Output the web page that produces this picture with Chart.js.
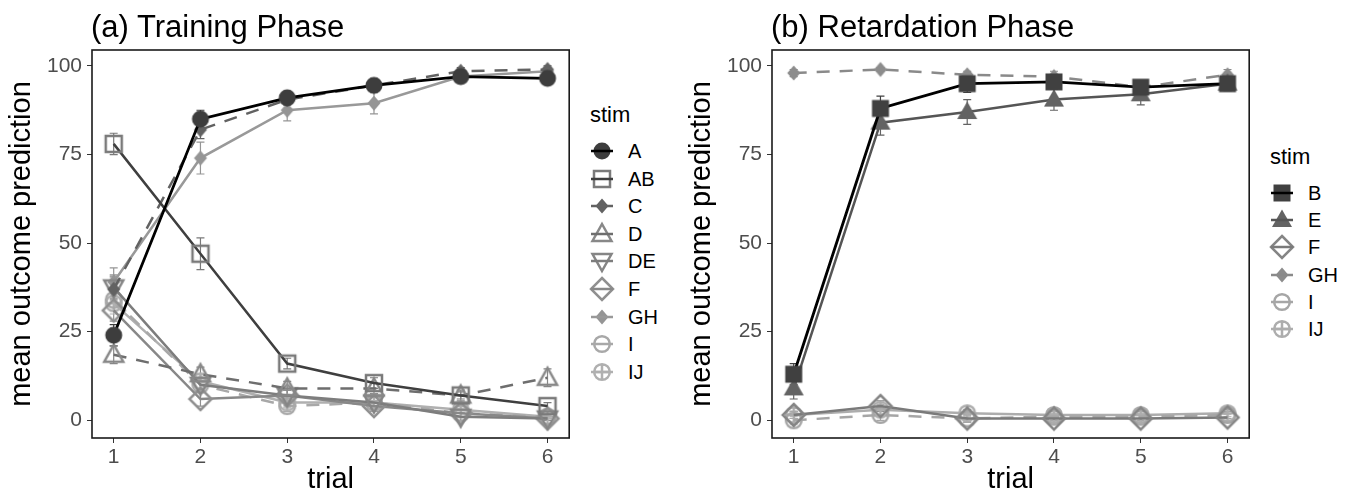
<!DOCTYPE html>
<html>
<head>
<meta charset="utf-8">
<script src="https://cdn.jsdelivr.net/npm/chart.js@4.4.1/dist/chart.umd.min.js"></script>
<style>
  body { margin: 0; background: #fff; font-family: "Liberation Sans", Arial, sans-serif; }
  #wrap { position: relative; width: 1360px; height: 499px; overflow: hidden; }
  canvas.plot { position: absolute; top: 0; }
  .ptitle { position: absolute; top: 9px; font-size: 31px; line-height: 36px; color: #000; white-space: nowrap; }
  .lg-head { position: absolute; font-size: 22px; line-height: 26px; color: #000; }
  .lg-row { position: absolute; height: 26px; line-height: 26px; font-size: 20px; color: #000; white-space: nowrap; }
  .lg-row canvas { position: absolute; left: 0; top: 0; }
  .lg-row span { position: absolute; left: 40px; top: 0; }
</style>
</head>
<body>
<div id="wrap">
  <canvas id="chartA" class="plot" width="580" height="499" style="left:0"></canvas>
  <canvas id="chartB" class="plot" width="580" height="499" style="left:680px"></canvas>
  <div class="ptitle" style="left:91px">(a) Training Phase</div>
  <div class="ptitle" style="left:771px">(b) Retardation Phase</div>
  <div id="legA"></div>
  <div id="legB"></div>
</div>
<script>
// ---- data ----
const trials = [1, 2, 3, 4, 5, 6];
const yTicks = [0, 25, 50, 75, 100];

// (a) training phase, mean outcome prediction per trial
const trainA  = [24, 85, 91, 94.5, 97, 96.5];
const trainAB = [78, 47, 16, 10.5, 7, 4];
const trainC  = [37, 82, 90.5, 94.5, 98.5, 99];
const trainD  = [18.5, 13, 9, 9, 7, 12];
const trainDE = [37.5, 10, 7, 5, 1, 0.5];
const trainF  = [31, 6, 7, 4, 2, 0.5];
const trainGH = [39, 74, 87.5, 89.5, 97, 98.5];
const trainI  = [34, 10, 4, 5, 2, 1];
const trainIJ = [33, 11, 5, 5, 3, 1];

// error bar half widths (a)
const errA  = [3, 2.5, 1.5, 1, 1, 1.5];
const errAB = [3, 4.5, 1.5, 1.5, 1, 1];
const errC  = [4, 2.5, 1.5, 1, 1, 1];
const errD  = [2.5, 2, 2, 1.5, 1.5, 2.5];
const errLow = [3, 2, 1.5, 1.5, 1, 0.5];
const errGH = [4, 4.5, 3, 3, 1.5, 1];

// (b) retardation phase
const retB  = [13, 88, 95, 95.5, 94, 95];
const retE  = [9, 84, 87, 90.5, 92, 95];
const retF  = [1.5, 4, 0.5, 0.5, 0.5, 0.8];
const retGH = [98, 99, 97.5, 97, 94, 97.5];
const retI  = [0, 1.5, 0.5, 1, 1, 1.5];
const retIJ = [1.5, 3, 2, 1.5, 1.5, 2];

const errB   = [3, 3.5, 2.5, 2, 1.5, 1.5];
const errE   = [3, 3.5, 3.5, 3, 3, 2];
const errGHb = [1, 0.5, 1, 1.5, 1.5, 1.5];
const errLowB = [1, 1.5, 1, 1, 1, 1];

// ---- symbols ----
function drawShape(ctx, shape, x, y, col) {
  ctx.fillStyle = col;
  ctx.strokeStyle = col;
  ctx.lineWidth = 2.5;
  ctx.beginPath();
  switch (shape) {
    case 'circle':
      ctx.arc(x, y, 8.5, 0, Math.PI * 2); ctx.fill(); break;
    case 'circleOpen':
      ctx.arc(x, y, 7.8, 0, Math.PI * 2); ctx.stroke(); break;
    case 'circlePlus':
      ctx.arc(x, y, 7.8, 0, Math.PI * 2);
      ctx.moveTo(x - 7.8, y); ctx.lineTo(x + 7.8, y);
      ctx.moveTo(x, y - 7.8); ctx.lineTo(x, y + 7.8);
      ctx.stroke(); break;
    case 'square':
      ctx.rect(x - 8, y - 8, 16, 16); ctx.stroke(); break;
    case 'squareFilled':
      ctx.rect(x - 8.5, y - 8.5, 17, 17); ctx.fill(); break;
    case 'diamond':
      ctx.moveTo(x, y - 7.5); ctx.lineTo(x + 6.5, y); ctx.lineTo(x, y + 7.5); ctx.lineTo(x - 6.5, y);
      ctx.closePath(); ctx.fill(); break;
    case 'diamondOpen':
      ctx.moveTo(x, y - 11); ctx.lineTo(x + 11, y); ctx.lineTo(x, y + 11); ctx.lineTo(x - 11, y);
      ctx.closePath(); ctx.stroke(); break;
    case 'triangle':
      ctx.moveTo(x, y - 10); ctx.lineTo(x + 9.5, y + 7); ctx.lineTo(x - 9.5, y + 7);
      ctx.closePath(); ctx.stroke(); break;
    case 'triangleFilled':
      ctx.moveTo(x, y - 10.5); ctx.lineTo(x + 10, y + 7); ctx.lineTo(x - 10, y + 7);
      ctx.closePath(); ctx.fill(); break;
    case 'triangleDown':
      ctx.moveTo(x, y + 10); ctx.lineTo(x + 9.5, y - 7); ctx.lineTo(x - 9.5, y - 7);
      ctx.closePath(); ctx.stroke(); break;
  }
}

function symbolCanvas(shape, col) {
  const c = document.createElement('canvas');
  c.width = 28; c.height = 28;
  drawShape(c.getContext('2d'), shape, 14, 14, col);
  return c;
}

// ---- series definitions ----
function series(label, vals, err, line, pt, shape, dashed, lw) {
  return {
    label: label,
    data: trials.map((t, i) => ({ x: t, y: vals[i] })),
    err: err,
    borderColor: line,
    backgroundColor: pt,
    borderWidth: lw || 2.5,
    borderDash: dashed ? [13, 10] : [],
    pointStyle: symbolCanvas(shape, pt),
    pointRadius: 8,
    tension: 0,
    fill: false,
    shape: shape
  };
}

const setA = [
  series('A',  trainA,  errA,   '#000000', '#3d3d3d', 'circle', false, 2.8),
  series('AB', trainAB, errAB,  '#3f3f3f', '#7a7a7a', 'square', false),
  series('C',  trainC,  errC,   '#626262', '#626262', 'diamond', true),
  series('D',  trainD,  errD,   '#6e6e6e', '#888888', 'triangle', true),
  series('DE', trainDE, errLow, '#7d7d7d', '#858585', 'triangleDown', false),
  series('F',  trainF,  errLow, '#888888', '#909090', 'diamondOpen', false),
  series('GH', trainGH, errGH,  '#999999', '#959595', 'diamond', false),
  series('I',  trainI,  errLow, '#a8a8a8', '#a8a8a8', 'circleOpen', true),
  series('IJ', trainIJ, errLow, '#b0b0b0', '#b0b0b0', 'circlePlus', false)
];

const setB = [
  series('B',  retB,  errB,    '#000000', '#404040', 'squareFilled', false, 2.8),
  series('E',  retE,  errE,    '#555555', '#636363', 'triangleFilled', false),
  series('F',  retF,  errLowB, '#7a7a7a', '#858585', 'diamondOpen', false),
  series('GH', retGH, errGHb,  '#8a8a8a', '#8c8c8c', 'diamond', true),
  series('I',  retI,  errLowB, '#a6a6a6', '#a6a6a6', 'circleOpen', true),
  series('IJ', retIJ, errLowB, '#adadad', '#adadad', 'circlePlus', false)
];

// ---- plugins ----
const errorBars = {
  id: 'errorBars',
  beforeDatasetsDraw(chart) {
    const ctx = chart.ctx;
    const xs = chart.scales.x, ys = chart.scales.y;
    chart.data.datasets.forEach(ds => {
      if (!ds.err) return;
      ctx.save();
      ctx.strokeStyle = ds.backgroundColor;
      ctx.lineWidth = 1.2;
      ds.data.forEach((p, i) => {
        const px = xs.getPixelForValue(p.x);
        const top = ys.getPixelForValue(p.y + ds.err[i]);
        const bot = ys.getPixelForValue(p.y - ds.err[i]);
        ctx.beginPath();
        ctx.moveTo(px, top); ctx.lineTo(px, bot);
        ctx.moveTo(px - 4, top); ctx.lineTo(px + 4, top);
        ctx.moveTo(px - 4, bot); ctx.lineTo(px + 4, bot);
        ctx.stroke();
      });
      ctx.restore();
    });
  }
};

const panelBox = {
  id: 'panelBox',
  afterDraw(chart) {
    const a = chart.chartArea, ctx = chart.ctx;
    ctx.save();
    ctx.strokeStyle = '#1a1a1a';
    ctx.lineWidth = 1.6;
    ctx.strokeRect(a.left, a.top, a.right - a.left, a.bottom - a.top);
    ctx.restore();
  }
};

function makeChart(id, datasets) {
  return new Chart(document.getElementById(id), {
    type: 'line',
    data: { datasets: datasets },
    options: {
      responsive: false,
      animation: false,
      devicePixelRatio: 1,
      layout: { padding: { left: 0, top: 50, right: 10, bottom: 0 } },
      plugins: { legend: { display: false }, tooltip: { enabled: false } },
      scales: {
        x: {
          type: 'linear',
          min: 0.75, max: 6.25,
          afterBuildTicks: s => { s.ticks = trials.map(v => ({ value: v })); },
          afterFit: s => { s.height = 61; },
          grid: { drawOnChartArea: false, drawTicks: true, tickLength: 5, color: '#333', lineWidth: 1 },
          border: { display: false },
          ticks: { color: '#4d4d4d', font: { size: 21, family: '"Liberation Sans", Arial' }, padding: 2, maxRotation: 0 },
          title: { display: true, text: 'trial', color: '#000', font: { size: 29, family: '"Liberation Sans", Arial' }, padding: { top: 0, bottom: 2 } }
        },
        y: {
          min: -5, max: 104.5,
          afterBuildTicks: s => { s.ticks = yTicks.map(v => ({ value: v })); },
          afterFit: s => { s.width = 92; },
          grid: { drawOnChartArea: false, drawTicks: true, tickLength: 5, color: '#333', lineWidth: 1 },
          border: { display: false },
          ticks: { color: '#4d4d4d', font: { size: 21, family: '"Liberation Sans", Arial' }, padding: 5 },
          title: { display: true, text: 'mean outcome prediction', color: '#000', font: { size: 29, family: '"Liberation Sans", Arial' }, padding: { top: 5, bottom: 0 } }
        }
      }
    },
    plugins: [errorBars, panelBox]
  });
}

makeChart('chartA', setA);
makeChart('chartB', setB);

// ---- legends ----
function buildLegend(holder, datasets, left, headY, firstY, step) {
  const el = document.getElementById(holder);
  const head = document.createElement('div');
  head.className = 'lg-head';
  head.style.left = (left + 2) + 'px';
  head.style.top = (headY - 13) + 'px';
  head.textContent = 'stim';
  el.appendChild(head);
  datasets.forEach((ds, i) => {
    const row = document.createElement('div');
    row.className = 'lg-row';
    row.style.left = left + 'px';
    row.style.top = (firstY + i * step - 13) + 'px';
    const c = document.createElement('canvas');
    c.width = 28; c.height = 26;
    const ctx = c.getContext('2d');
    drawShape(ctx, ds.shape, 14, 13, ds.backgroundColor);
    ctx.strokeStyle = ds.borderColor;
    ctx.lineWidth = 2.5;
    ctx.beginPath(); ctx.moveTo(3, 13); ctx.lineTo(25, 13); ctx.stroke();
    const sp = document.createElement('span');
    sp.textContent = ds.label;
    row.appendChild(c);
    row.appendChild(sp);
    el.appendChild(row);
  });
}

buildLegend('legA', setA, 588, 115, 151, 27.6);
buildLegend('legB', setB, 1268, 157, 193, 27.2);
</script>
</body>
</html>
